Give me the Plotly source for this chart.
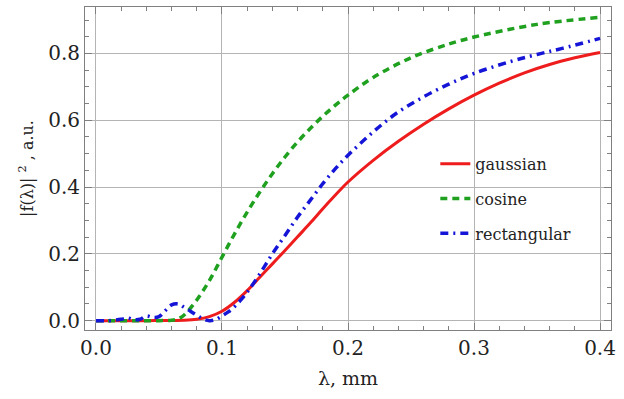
import plotly.graph_objects as go

# gaussian
x_gauss = [0, 0.02, 0.04, 0.06, 0.07, 0.08, 0.09, 0.1, 0.11, 0.12, 0.13, 0.14, 0.15, 0.16, 0.17,
           0.18, 0.19, 0.2, 0.22, 0.24, 0.26, 0.28, 0.3, 0.32, 0.34, 0.36, 0.38, 0.4]
y_gauss = [0, 0, 0, 0.0005, 0.001, 0.004, 0.012, 0.028, 0.055, 0.09, 0.13, 0.17, 0.21, 0.251, 0.292,
           0.335, 0.376, 0.415, 0.48, 0.537, 0.588, 0.634, 0.675, 0.711, 0.742, 0.767, 0.787, 0.803]

# cosine
x_cos = [0, 0.05, 0.06, 0.065, 0.07, 0.08, 0.09, 0.1, 0.11, 0.12, 0.13, 0.14, 0.15, 0.16, 0.17,
         0.18, 0.19, 0.2, 0.22, 0.25, 0.28, 0.3, 0.35, 0.4]
y_cos = [0, 0, 0.001, 0.005, 0.017, 0.062, 0.12, 0.19, 0.26, 0.325, 0.385, 0.44, 0.49, 0.535, 0.575,
         0.612, 0.645, 0.675, 0.728, 0.787, 0.828, 0.849, 0.887, 0.908]

# rectangular
x_rect = [0, 0.01, 0.02, 0.025, 0.03, 0.035, 0.04, 0.045, 0.05, 0.055, 0.06, 0.065, 0.07, 0.075,
          0.08, 0.085, 0.09, 0.095, 0.1, 0.105, 0.11, 0.115, 0.12, 0.13, 0.14, 0.15, 0.16, 0.17,
          0.18, 0.19, 0.2, 0.22, 0.24, 0.26, 0.28, 0.3, 0.33, 0.35, 0.37, 0.4]
y_rect = [0, 0, 0.004, 0.008, 0.003, 0.004, 0.014, 0.01, 0.012, 0.03, 0.047, 0.05, 0.04, 0.028,
          0.016, 0.005, 0.0, 0.003, 0.014, 0.026, 0.042, 0.062, 0.085, 0.14, 0.2, 0.255, 0.31, 0.36,
          0.41, 0.455, 0.495, 0.565, 0.625, 0.67, 0.708, 0.74, 0.777, 0.797, 0.815, 0.845]

x_ticks = [0.0, 0.1, 0.2, 0.3, 0.4]
y_ticks = [0.0, 0.2, 0.4, 0.6, 0.8]

FONT = "DejaVu Serif"
TXT = "#222222"

fig = go.Figure()
fig.add_trace(go.Scatter(x=x_gauss, y=y_gauss, mode="lines", name="gaussian", legendgroup="a",
                         line=dict(color="#ee1c1c", width=3, shape="spline")))
fig.add_trace(go.Scatter(x=x_cos, y=y_cos, mode="lines", name="cosine", legendgroup="b",
                         line=dict(color="#1fa01f", width=3.5, dash="7px,5px", shape="spline")))
fig.add_trace(go.Scatter(x=x_rect, y=y_rect, mode="lines", name="rectangular", legendgroup="c",
                         line=dict(color="#1515d8", width=3.5, dash="8px,5px,2px,5px", shape="spline")))

axis_common = dict(
    showline=True, linecolor="#808080", linewidth=1, mirror="ticks",
    ticks="inside", ticklen=7, tickcolor="#808080", tickwidth=1,
    showgrid=True, gridcolor="#b4b4b4", gridwidth=1, zeroline=False,
    tickfont=dict(family=FONT, size=20, color=TXT),
)

fig.update_xaxes(**axis_common, range=[-0.0087, 0.4087], tickvals=x_ticks,
                 ticktext=[f"{v:.1f}" for v in x_ticks],
                 minor=dict(dtick=0.02, tick0=0, ticks="inside", ticklen=4, tickcolor="#808080", showgrid=False),
                 title=dict(text="λ, mm", font=dict(family=FONT, size=19, color=TXT), standoff=12))
fig.update_yaxes(**axis_common, range=[-0.028, 0.939], tickvals=y_ticks,
                 ticktext=[f"{v:.1f}" for v in y_ticks],
                 minor=dict(dtick=0.05, tick0=0, ticks="inside", ticklen=4, tickcolor="#808080", showgrid=False),
                 title=dict(text="|f(λ)| <sup>2</sup> , a.u.", font=dict(family=FONT, size=16, color=TXT), standoff=10))

fig.update_layout(
    width=624, height=399,
    margin=dict(l=85, r=13, t=7, b=69),
    paper_bgcolor="white", plot_bgcolor="white",
    font=dict(family=FONT),
    showlegend=True,
    legend=dict(x=0.666, y=0.567, xanchor="left", yanchor="top", bgcolor="rgba(0,0,0,0)",
                font=dict(family=FONT, size=16, color=TXT), tracegroupgap=11,
                traceorder="grouped"),
)

fig.write_html("out.html")
